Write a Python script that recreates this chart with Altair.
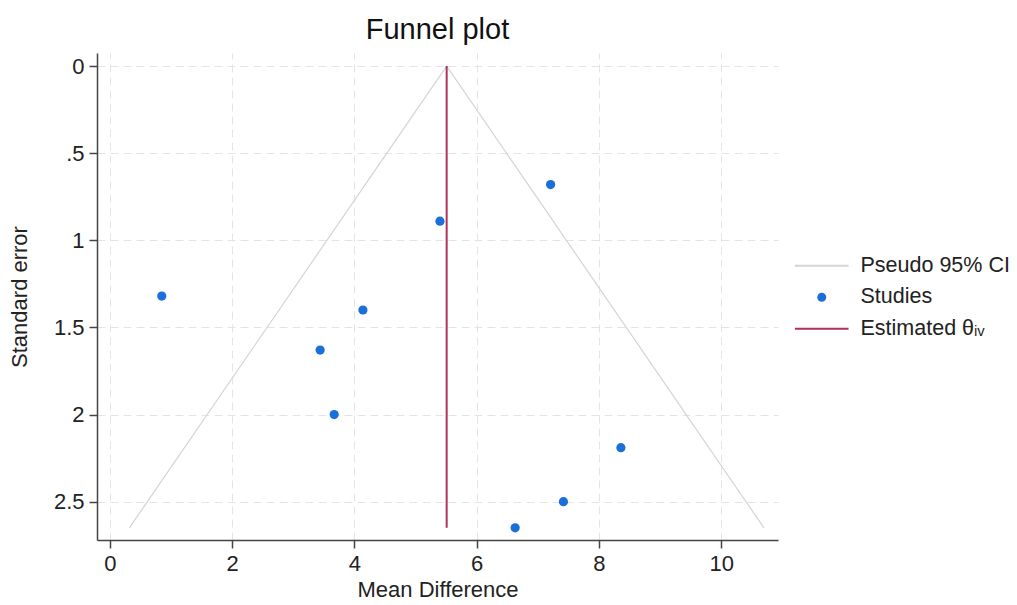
import altair as alt
import pandas as pd

# Studies
study_md = [7.21, 5.40, 0.85, 4.14, 3.44, 3.67, 8.36, 7.42, 6.63]
study_se = [0.68, 0.89, 1.32, 1.40, 1.63, 2.00, 2.19, 2.50, 2.65]

# Estimated effect and pseudo 95% CI funnel endpoints
theta = 5.51
se_top = 0.0
se_max = 2.65
ci_left_x = [5.51, 0.32]
ci_right_x = [5.51, 10.70]
ci_y = [0.0, 2.65]

series = ["Pseudo 95% CI", "Studies", "Estimated θᵢᵥ"]
colors = ["#d4d4d4", "#1a6fd8", "#b03060"]

x_ticks = [0, 2, 4, 6, 8, 10]
y_ticks = [0, 0.5, 1, 1.5, 2, 2.5]

pts = pd.DataFrame({"md": study_md, "se": study_se, "series": series[1]})
ci = pd.DataFrame({
    "md": ci_left_x + ci_right_x,
    "se": ci_y + ci_y,
    "side": ["L", "L", "R", "R"],
    "series": series[0],
})
est = pd.DataFrame({"md": [theta], "se": [se_top], "se2": [se_max], "series": series[2]})

FONT = "Liberation Sans"

xscale = alt.Scale(domain=[-0.21, 10.93], nice=False, zero=False)
yscale = alt.Scale(domain=[-0.075, 2.72], nice=False, zero=False, reverse=True)

xaxis = alt.Axis(values=x_ticks, title="Mean Difference", grid=True)
yaxis = alt.Axis(values=y_ticks, title="Standard error", grid=True,
                 labelExpr="datum.value == 0.5 ? '.5' : toString(datum.value)")

legend = alt.Legend(
    title=None, orient="none", legendX=714, legendY=202,
    symbolType={"expr": "datum.value == 'Studies' ? 'circle' : 'M-6,0H6'"},
    symbolStrokeColor={"expr": "scale('color', datum.value)"},
    symbolStrokeWidth={"expr": "datum.value == 'Studies' ? 0 : 2"},
    symbolFillColor={"expr": "datum.value == 'Studies' ? scale('color', datum.value) : 'transparent'"},
    symbolSize=80, symbolOpacity=1,
    labelFontSize=21.5, labelFont=FONT, labelColor="#222222",
    labelOffset=28, rowPadding=8.5, padding=0, labelLimit=300,
)
color = alt.Color("series:N", scale=alt.Scale(domain=series, range=colors), legend=legend)

points = alt.Chart(pts).mark_point(filled=True, size=85, opacity=1).encode(
    x=alt.X("md:Q", scale=xscale, axis=xaxis),
    y=alt.Y("se:Q", scale=yscale, axis=yaxis),
    color=color,
)

lines = alt.Chart(ci).mark_line(strokeWidth=1.2).encode(
    x=alt.X("md:Q", scale=xscale, axis=xaxis),
    y=alt.Y("se:Q", scale=yscale, axis=yaxis),
    detail="side:N",
    color=color,
)

rule = alt.Chart(est).mark_rule(strokeWidth=2).encode(
    x=alt.X("md:Q", scale=xscale, axis=xaxis),
    y=alt.Y("se:Q", scale=yscale, axis=yaxis),
    y2="se2:Q",
    color=color,
)

chart = alt.layer(points, lines, rule).properties(
    width=681, height=487,
    title=alt.TitleParams("Funnel plot", fontSize=29, font=FONT, fontWeight="normal",
                          color="#111111", anchor="middle", baseline="alphabetic",
                          offset=15, dy=30),
    autosize=alt.AutoSizeParams(type="none"),
    padding={"left": 97, "top": 53, "right": 239, "bottom": 65},
).configure_view(stroke=None).configure_axis(
    domainColor="#444444", domainWidth=1.5, tickColor="#444444", tickWidth=1.5, tickSize=8,
    labelFont=FONT, labelFontSize=22, labelColor="#222222", labelPadding=5,
    titleFont=FONT, titleFontSize=22, titleColor="#222222", titleFontWeight="normal",
    gridColor="#e4e4e4", gridDash=[8, 5], gridWidth=1,
).configure_axisX(titlePadding=5).configure_axisY(titlePadding=22)

chart.save("out.html", embed_options={"renderer": "svg", "actions": False})
